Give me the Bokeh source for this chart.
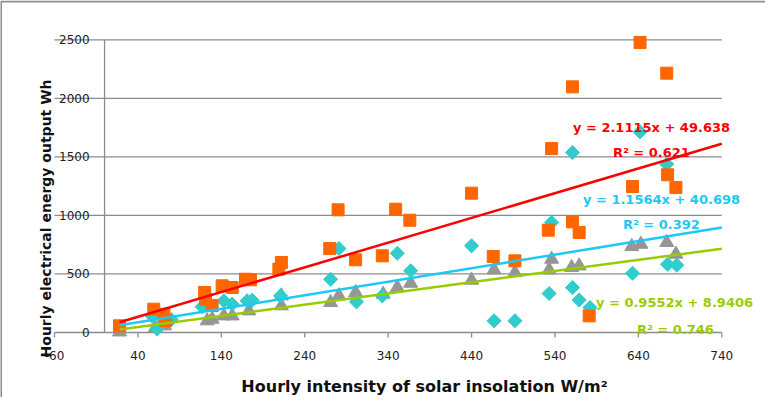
import numpy as np
from bokeh.plotting import figure
from bokeh.models import Range1d
from bokeh.core.properties import value
from bokeh.embed import file_html
from bokeh.resources import INLINE

# ---- data ----
x_orange = [18, 59, 71, 73, 120, 121, 129, 141, 153, 169, 175, 209, 212, 270, 280, 301, 333, 349, 366, 440,
            466, 492, 532, 536, 561, 561, 569, 581, 633, 642, 674, 675, 685]
y_orange = [57, 199, 156, 102, 342, 285, 230, 399, 384, 455, 450, 541, 598, 717, 1048, 621, 655, 1053, 959, 1190,
            649, 612, 874, 1571, 2098, 945, 854, 142, 1247, 2477, 2215, 1347, 1238]

x_cyan = [57, 63, 80, 117, 143, 153, 171, 177, 211, 271, 281, 302, 333, 351, 367, 440, 467, 492, 533, 536,
          561, 561, 569, 582, 633, 642, 674, 675, 686]
y_cyan = [140, 30, 110, 220, 270, 242, 270, 276, 313, 455, 717, 262, 313, 677, 527, 740, 100, 100, 333, 940,
          1537, 384, 278, 213, 506, 1714, 1438, 583, 575]

x_gray = [18, 61, 67, 72, 123, 129, 143, 153, 173, 212, 212, 271, 281, 301, 334, 351, 367, 440, 467, 492,
          533, 536, 560, 569, 632, 643, 674, 685]
y_gray = [5, 43, 60, 57, 100, 114, 142, 142, 185, 228, 313, 256, 313, 342, 327, 384, 421, 447, 535, 512,
          535, 626, 555, 569, 734, 754, 769, 669]

slopes = [2.1115, 1.1564, 0.9552]
intercepts = [49.638, 40.698, 8.9406]
r_squared = [0.621, 0.392, 0.746]

x_ticks = [-60, 40, 140, 240, 340, 440, 540, 640, 740]
y_ticks = [0, 500, 1000, 1500, 2000, 2500]
x_title = "Hourly intensity of solar insolation W/m\u00b2"
y_title = "Hourly electrical  energy output Wh"

# ---- layout (canvas pixels) ----
W, H = 765, 397
PX_L, PX_R = 54.0, 721.3      # screen x of first / last x tick
PY_T, PY_B = 39.3, 332.0      # screen y of top / bottom y tick
sx = (PX_R - PX_L) / (x_ticks[-1] - x_ticks[0])
sy = (PY_B - PY_T) / (y_ticks[-1] - y_ticks[0])
x0r = x_ticks[0] - PX_L / sx
x1r = x_ticks[-1] + (W - PX_R) / sx
y0r = y_ticks[0] - (H - PY_B) / sy
y1r = y_ticks[-1] + PY_T / sy

def dx(px):  # screen x -> data x
    return x0r + px / sx

def dy(py):  # screen y (from top) -> data y
    return y1r - py / sy

# ---- styles ----
ORANGE = "#FF6600"
CYAN = "#33CCCC"
GRAY = "#969696"
LINE_COLORS = ["#FF0000", "#1EC8F5", "#99CC00"]
GRID = "#8c8c8c"
FONT = value("DejaVu Sans")

p = figure(width=W, height=H, x_range=Range1d(x0r, x1r), y_range=Range1d(y0r, y1r),
           output_backend="svg", toolbar_location=None,
           min_border_left=0, min_border_right=0, min_border_top=0, min_border_bottom=0)
p.outline_line_color = None
p.xaxis.visible = False
p.yaxis.visible = False
p.xgrid.visible = False
p.ygrid.visible = False
p.background_fill_color = "white"
p.border_fill_color = "white"

# chart-area border (top and left edge)
p.segment(x0=[dx(0), dx(0.5)], y0=[dy(1), dy(1)], x1=[dx(W), dx(0.5)], y1=[dy(1), dy(H)],
          line_color=GRID, line_width=2)

# horizontal gridlines across the plot area
n = len(y_ticks)
p.segment(x0=[x_ticks[0]] * n, y0=y_ticks, x1=[x_ticks[-1]] * n, y1=y_ticks,
          line_color=GRID, line_width=1.3)
# vertical axis line at x = 0
p.segment(x0=[0], y0=[y_ticks[0]], x1=[0], y1=[y_ticks[-1]], line_color=GRID, line_width=1.3)
# x tick marks (5 px down)
tick_len = 5 / sy
m = len(x_ticks)
p.segment(x0=x_ticks, y0=[0] * m, x1=x_ticks, y1=[-tick_len] * m, line_color=GRID, line_width=1.3)

# tick labels
p.text(x=x_ticks, y=[0] * m, text=[str(v) for v in x_ticks], y_offset=23, text_align="center",
       text_baseline="middle", text_font=FONT, text_font_size="12px", text_color="#222222")
p.text(x=[0] * n, y=y_ticks, text=[str(v) for v in y_ticks], x_offset=-15, text_align="right",
       text_baseline="middle", text_font=FONT, text_font_size="12px", text_color="#222222")

# points
p.scatter(x_gray, y_gray, marker="triangle", size=14, fill_color=GRAY, line_color=GRAY)
p.scatter(x_cyan, y_cyan, marker="square", angle=np.pi / 4, size=10, fill_color=CYAN, line_color=CYAN)
p.scatter(x_orange, y_orange, marker="square", size=12, fill_color=ORANGE, line_color=ORANGE)

# trend lines
x_start = min(x_orange + x_cyan + x_gray)
x_end = x_ticks[-1]
for s, b, c in zip(slopes, intercepts, LINE_COLORS):
    xs = np.array([x_start, x_end], dtype=float)
    p.line(xs, s * xs + b, line_color=c, line_width=2.5)

# equation labels (screen positions of label centres)
eq_pos = [((651, 127), (651, 152)), ((661, 199), (661, 224)), ((674, 302), (675, 329))]
for (s, b, r2, c, (pe, pr)) in zip(slopes, intercepts, r_squared, LINE_COLORS, eq_pos):
    p.text(x=[dx(pe[0])], y=[dy(pe[1])], text=[f"y = {s}x + {b}"], text_align="center",
           text_baseline="middle", text_font=FONT, text_font_style="bold",
           text_font_size="13px", text_color=c)
    p.text(x=[dx(pr[0])], y=[dy(pr[1])], text=[f"R\u00b2 = {r2}"], text_align="center",
           text_baseline="middle", text_font=FONT, text_font_style="bold",
           text_font_size="13px", text_color=c)

# axis titles
p.text(x=[dx(424)], y=[dy(386)], text=[x_title], text_align="center", text_baseline="middle",
       text_font=FONT, text_font_style="bold", text_font_size="16px", text_color="#111111")
p.text(x=[dx(45.5)], y=[dy(215.5)], text=[y_title], angle=np.pi / 2, text_align="center",
       text_baseline="middle", text_font=FONT, text_font_style="bold", text_font_size="14px",
       text_color="#111111")

open("out.html", "w").write(file_html(p, INLINE))
